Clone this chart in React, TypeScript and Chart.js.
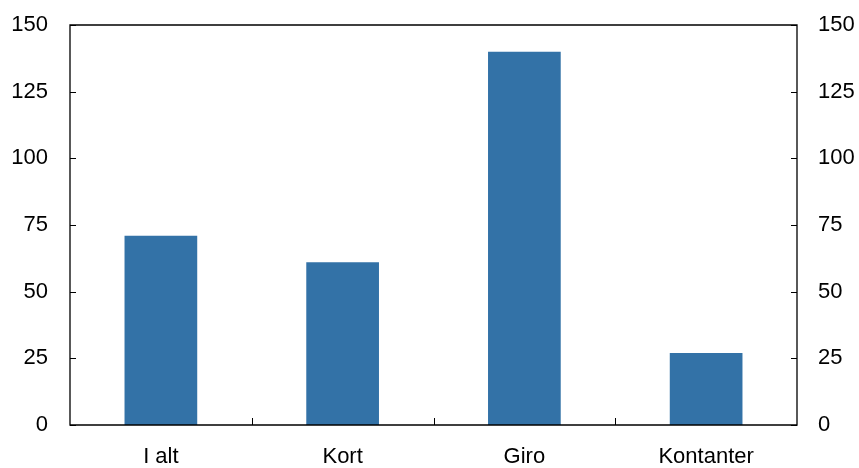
import React, { useEffect, useRef } from "react";
import { Chart, registerables } from "chart.js";

Chart.register(...registerables);

const categories = ["I alt", "Kort", "Giro", "Kontanter"];
const values = [71, 61, 140, 27];
const yTicks = [0, 25, 50, 75, 100, 125, 150];

const FONT = "'Liberation Sans', Arial, sans-serif";
const FS = 22;

const boxPlugin = {
  id: "boxTicks",
  afterDraw(chart: any) {
    const { ctx, chartArea } = chart;
    const { left, right, top, bottom } = chartArea;
    ctx.save();
    ctx.strokeStyle = "#000";
    ctx.lineWidth = 1.3;
    ctx.beginPath();
    ctx.rect(left, top, right - left, bottom - top);
    ctx.stroke();
    const y = chart.scales.y;
    ctx.lineWidth = 1;
    yTicks.forEach((v) => {
      const py = Math.round(y.getPixelForValue(v)) + 0.5;
      ctx.beginPath();
      ctx.moveTo(left, py);
      ctx.lineTo(left + 6, py);
      ctx.moveTo(right, py);
      ctx.lineTo(right - 6, py);
      ctx.stroke();
    });
    const x = chart.scales.x;
    for (let i = 1; i < categories.length; i++) {
      const px = Math.round((x.getPixelForValue(i - 1) + x.getPixelForValue(i)) / 2) + 0.5;
      ctx.beginPath();
      ctx.moveTo(px, bottom);
      ctx.lineTo(px, bottom - 7);
      ctx.stroke();
    }
    ctx.restore();
  },
};

const fitY = (w: number) => (s: any) => {
  s.width = w;
  s.paddingTop = 0;
  s.paddingBottom = 0;
};

export default function App() {
  const ref = useRef<HTMLCanvasElement>(null);
  useEffect(() => {
    document.body.style.margin = "0";
    const chart = new Chart(ref.current!, {
      type: "bar",
      data: {
        labels: categories,
        datasets: [
          {
            data: values,
            backgroundColor: "#3372a7",
            barPercentage: 0.4,
            categoryPercentage: 1,
            yAxisID: "y",
          },
        ],
      },
      options: {
        animation: false,
        responsive: false,
        maintainAspectRatio: false,
        layout: { padding: { top: 25, left: 0, right: 0, bottom: 0 } },
        plugins: { legend: { display: false }, tooltip: { enabled: false } },
        scales: {
          x: {
            grid: { display: false, drawTicks: false },
            border: { display: false },
            ticks: { color: "#000", font: { family: FONT, size: FS }, padding: 19, maxRotation: 0 },
            afterFit: (s: any) => { s.height = 43; s.paddingLeft = 0; s.paddingRight = 0; },
          },
          y: {
            position: "left",
            min: 0,
            max: 150,
            grid: { display: false, drawTicks: false },
            border: { display: false },
            ticks: { stepSize: 25, color: "#000", font: { family: FONT, size: FS }, padding: 22 },
            afterFit: fitY(70),
          },
          y2: {
            position: "right",
            min: 0,
            max: 150,
            grid: { display: false, drawTicks: false },
            border: { display: false },
            ticks: { stepSize: 25, color: "#000", font: { family: FONT, size: FS }, padding: 21 },
            afterFit: fitY(62),
          },
        },
      },
      plugins: [boxPlugin],
    });
    return () => chart.destroy();
  }, []);
  return (
    <div style={{ width: 859, height: 468 }}>
      <canvas ref={ref} width={859} height={468} style={{ display: "block" }} />
    </div>
  );
}
